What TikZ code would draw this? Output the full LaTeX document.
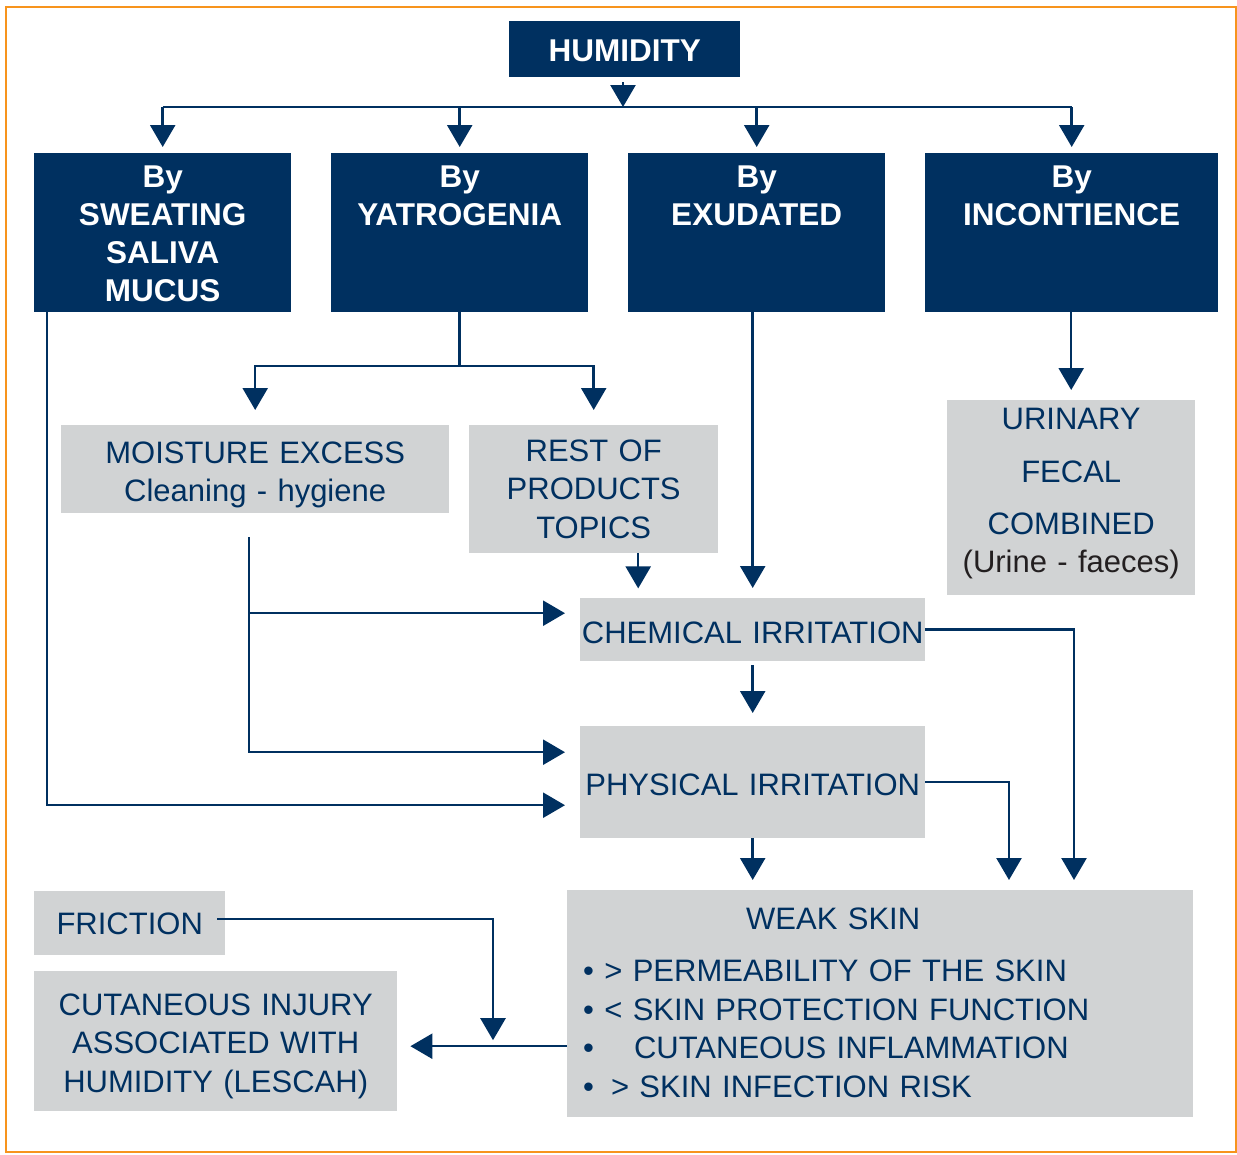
\documentclass[tikz,border=0pt]{standalone}
\usepackage{fontspec}
\setmainfont{Liberation Sans}
\usetikzlibrary{arrows.meta,calc}
\definecolor{navy}{HTML}{003060}
\definecolor{boxgray}{HTML}{D1D3D4}
\definecolor{orangeb}{HTML}{F7941D}
\definecolor{darktxt}{HTML}{231F20}
\begin{document}
\begin{tikzpicture}[x=1pt,y=-1pt,
  navybox/.style={fill=navy, text=white, font=\fontsize{31.5}{38}\selectfont\bfseries, inner sep=0pt, align=center, anchor=north west},
  graybox/.style={fill=boxgray, text=navy, font=\fontsize{31}{38.5}\selectfont, inner sep=0pt, align=center, anchor=north west},
  conn/.style={draw=navy, line width=2.5pt},
  arr/.style={conn, -{Triangle[width=25pt,length=22pt]}},
]
\useasboundingbox (0,0) rectangle (1237,1154);
\draw[orangeb, line width=2pt] (6,7) rectangle (1236,1152);

% navy boxes
\node[navybox, text width=231pt, text height=40pt, text depth=16pt] (hum) at (509,21) {HUMIDITY};
\node[navybox, text width=257pt, text height=34pt, text depth=125pt] (b1) at (34,153) {By\\SWEATING\\SALIVA\\MUCUS};
\node[navybox, text width=257pt, text height=34pt, text depth=125pt] (b2) at (331,153) {By\\YATROGENIA};
\node[navybox, text width=257pt, text height=34pt, text depth=125pt] (b3) at (628,153) {By\\EXUDATED};
\node[navybox, text width=293pt, text height=34pt, text depth=125pt] (b4) at (925,153) {By\\INCONTIENCE};

% gray boxes
\node[graybox, text width=388pt, text height=38pt, text depth=50pt] (moist) at (61,425) {MOISTURE EXCESS\\Cleaning - hygiene};
\node[graybox, text width=249pt, text height=36pt, text depth=92pt] (rest) at (469,425) {REST OF\\PRODUCTS\\TOPICS};
\node[graybox, text width=248pt, text height=29pt, text depth=166pt] (urin) at (947,400) {URINARY\\[14.5pt]FECAL\\[13.5pt]COMBINED\\\textcolor{darktxt}{(Urine - faeces)}};
\node[graybox, text width=345pt, text height=45pt, text depth=18pt] (chem) at (580,598) {CHEMICAL IRRITATION};
\node[graybox, text width=345pt, text height=69pt, text depth=43pt] (phys) at (580,726) {PHYSICAL IRRITATION};
\node[graybox, align=left, inner xsep=16pt, inner ysep=0pt, text width=594pt, text height=39pt, text depth=188pt, font=\fontsize{31}{38.7}\selectfont] (weak) at (567,890)
  {\hspace*{163pt}WEAK SKIN\\[13.5pt]
   • > PERMEABILITY OF THE SKIN\\
   • < SKIN PROTECTION FUNCTION\\
   •\hspace{40pt}CUTANEOUS INFLAMMATION\\
   •\hspace{17pt}> SKIN INFECTION RISK};
\node[graybox, text width=191pt, text height=43pt, text depth=21pt] (fric) at (34,891) {FRICTION};
\node[graybox, text width=363pt, text height=44pt, text depth=96pt] (lesc) at (34,971) {CUTANEOUS INJURY\\ASSOCIATED WITH\\HUMIDITY (LESCAH)};

% connectors
\coordinate (bus) at (623,107);
\draw[arr, shorten <=5pt] (hum.south -| bus) -- (bus);
\draw[conn] (b1.north |- bus) -- (b4.north |- bus);
\foreach \b in {b1,b2,b3,b4}
  \draw[arr, shorten >=6pt] (\b.north |- bus) -- (\b.north);

\coordinate (ysplit) at (0,366);
\draw[conn] (b2.south) -- (b2.south |- ysplit);
\draw[arr, shorten >=15pt] (b2.south |- ysplit) -| (moist.north);
\draw[arr, shorten >=15pt] (b2.south |- ysplit) -| (rest.north);

\coordinate (m1) at ($(moist.south)+(-6,24)$);
\coordinate (cin) at ($(chem.west)+(0,-16.5)$);
\draw[arr, shorten >=15pt] (m1) |- ($(phys.west)+(0,-30)$);
\draw[arr, shorten >=15pt] (m1 |- cin) -- (cin);

\coordinate (s1) at ($(b1.south west)+(13,0)$);
\draw[arr, shorten >=15pt] (s1) |- ($(phys.west)+(0,23)$);

\draw[arr, shorten >=10pt] (b3.south -| chem.north) -- (chem.north);
\draw[arr, shorten >=10pt] ($(rest.south)+(44.5,0)$) -- ($(rest.south)+(44.5,45)$);
\draw[arr, shorten >=10pt] (urin.north |- b4.south) -- (urin.north);
\draw[arr, shorten <=4pt, shorten >=13pt] (chem.south) -- (phys.north);
\draw[arr, shorten >=10pt] (chem.east) -| ($(weak.north west)+(507,0)$);
\draw[arr, shorten >=10pt] (phys.east) -| ($(weak.north west)+(442,0)$);
\draw[arr, shorten >=10pt] (phys.south) -- (phys.south |- weak.north);

\coordinate (wj) at ($(weak.west)+(0,42.5)$);
\draw[arr, shorten >=13pt] (wj) -- (wj -| lesc.east);
\coordinate (fj) at ($(fric.east)+(-8,-4)$);
\draw[arr, shorten >=6pt] (fj) -| ($(wj)+(-74,0)$);
\end{tikzpicture}
\end{document}
